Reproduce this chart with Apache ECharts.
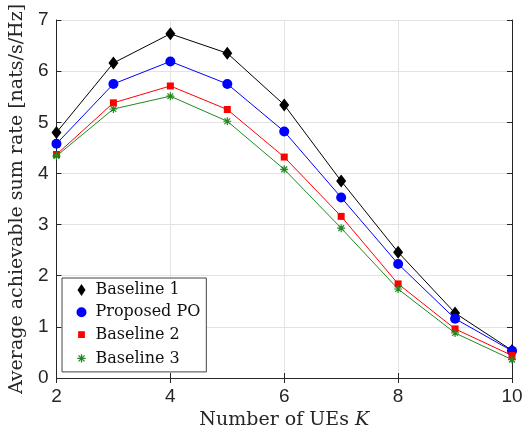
<!DOCTYPE html>
<html><head><meta charset="utf-8">
<script src="https://cdn.jsdelivr.net/npm/echarts@6/dist/echarts.min.js"></script>
<style>html,body{margin:0;padding:0;background:#fff}#c{width:532px;height:438px}</style>
</head><body><div id="c"></div>
<script>
var K = [2, 3, 4, 5, 6, 7, 8, 9, 10];
var baseline1 = [4.80, 6.16, 6.73, 6.35, 5.34, 3.85, 2.46, 1.27, 0.54];
var proposedPO = [4.58, 5.75, 6.19, 5.75, 4.82, 3.53, 2.23, 1.16, 0.53];
var baseline2 = [4.37, 5.38, 5.71, 5.25, 4.32, 3.16, 1.84, 0.96, 0.44];
var baseline3 = [4.34, 5.26, 5.51, 5.02, 4.08, 2.93, 1.74, 0.88, 0.36];
var seriesNames = ['Baseline 1', 'Proposed PO', 'Baseline 2', 'Baseline 3'];

function pairs(v) { return K.map(function (k, i) { return [k, v[i]]; }); }

var ASTER = 'path://M0,-1L0,1M-1,0L1,0M-0.72,-0.72L0.72,0.72M-0.72,0.72L0.72,-0.72';
// padded icons for legend (moveTo corners enlarge the bounding box)
var L_DIAMOND = 'path://M-7,-7M7,7M0,-6L4,0L0,6L-4,0Z';
var L_CIRCLE = 'path://M-7,-7M7,7M0,-5A5,5,0,1,1,-0.01,-5Z';
var L_SQUARE = 'path://M-7,-7M7,7M-3.4,-3.4L3.4,-3.4L3.4,3.4L-3.4,3.4Z';
var L_ASTER = 'path://M-7,-7M7,7M0,-4.2L0,4.2M-4.2,0L4.2,0M-3,-3L3,3M-3,3L3,-3';

var axisCol = '#262626';
var green = '#1f8a1f';
var serif = 'DejaVu Serif';
var sans = 'Liberation Sans';

var chart = echarts.init(document.getElementById('c'), null, {renderer: 'canvas'});
chart.setOption({
  animation: false,
  backgroundColor: '#fff',
  grid: {left: 54, right: 20, top: 20, bottom: 60, show: false},
  xAxis: [{
    type: 'value', min: 2, max: 10, interval: 2,
    name: 'Number of UEs {i|K}', nameLocation: 'middle', nameGap: 32,
    nameTextStyle: {fontFamily: serif, fontSize: 19, color: axisCol,
      rich: {i: {fontFamily: serif, fontStyle: 'italic', fontSize: 19, color: axisCol}}},
    axisLine: {show: true, lineStyle: {color: axisCol, width: 1}},
    axisTick: {show: true, inside: true, length: 5, lineStyle: {color: axisCol}},
    axisLabel: {fontFamily: sans, fontSize: 19, color: axisCol, margin: 9},
    splitLine: {show: true, lineStyle: {color: '#e3e3e3', width: 1}}
  }, {
    type: 'value', min: 2, max: 10, interval: 2, position: 'top',
    axisLine: {show: true, lineStyle: {color: axisCol, width: 1}},
    axisTick: {show: true, inside: true, length: 5, lineStyle: {color: axisCol}},
    axisLabel: {show: false}, splitLine: {show: false}
  }],
  yAxis: [{
    type: 'value', min: 0, max: 7, interval: 1,
    name: 'Average achievable sum rate [nats/s/Hz]', nameLocation: 'middle', nameGap: 27,
    nameTextStyle: {fontFamily: serif, fontSize: 19, color: axisCol},
    axisLine: {show: true, lineStyle: {color: axisCol, width: 1}},
    axisTick: {show: true, inside: true, length: 5, lineStyle: {color: axisCol}},
    axisLabel: {fontFamily: sans, fontSize: 19, color: axisCol, margin: 8},
    splitLine: {show: true, lineStyle: {color: '#e3e3e3', width: 1}}
  }, {
    type: 'value', min: 0, max: 7, interval: 1, position: 'right',
    axisLine: {show: true, lineStyle: {color: axisCol, width: 1}},
    axisTick: {show: true, inside: true, length: 5, lineStyle: {color: axisCol}},
    axisLabel: {show: false}, splitLine: {show: false}
  }],
  legend: {
    orient: 'vertical', left: 62, top: 278, width: 144,
    padding: [4, 6, 4, 10], itemGap: 6.3,
    itemWidth: 14, itemHeight: 14,
    backgroundColor: '#fff', borderColor: '#444', borderWidth: 1,
    textStyle: {fontFamily: serif, fontSize: 16, lineHeight: 16, color: '#111', padding: [0, 0, 0, 2]},
    data: [
      {name: seriesNames[0], icon: L_DIAMOND, itemStyle: {color: '#000', borderWidth: 0}},
      {name: seriesNames[1], icon: L_CIRCLE, itemStyle: {color: '#0000ff', borderWidth: 0}},
      {name: seriesNames[2], icon: L_SQUARE, itemStyle: {color: '#ff0000', borderWidth: 0}},
      {name: seriesNames[3], icon: L_ASTER, itemStyle: {color: 'none', borderColor: green, borderWidth: 1.3}}
    ]
  },
  series: [
    {name: seriesNames[0], type: 'line', data: pairs(baseline1), symbol: 'diamond', symbolSize: [10, 13],
      lineStyle: {color: '#000', width: 1}, itemStyle: {color: '#000'}},
    {name: seriesNames[1], type: 'line', data: pairs(proposedPO), symbol: 'circle', symbolSize: 10,
      lineStyle: {color: '#0000ff', width: 1}, itemStyle: {color: '#0000ff'}},
    {name: seriesNames[2], type: 'line', data: pairs(baseline2), symbol: 'rect', symbolSize: 7,
      lineStyle: {color: '#ff0000', width: 1}, itemStyle: {color: '#ff0000'}},
    {name: seriesNames[3], type: 'line', data: pairs(baseline3), symbol: ASTER, symbolSize: 8,
      lineStyle: {color: green, width: 1}, itemStyle: {color: 'none', borderColor: green, borderWidth: 1.2}}
  ]
});
</script></body></html>
